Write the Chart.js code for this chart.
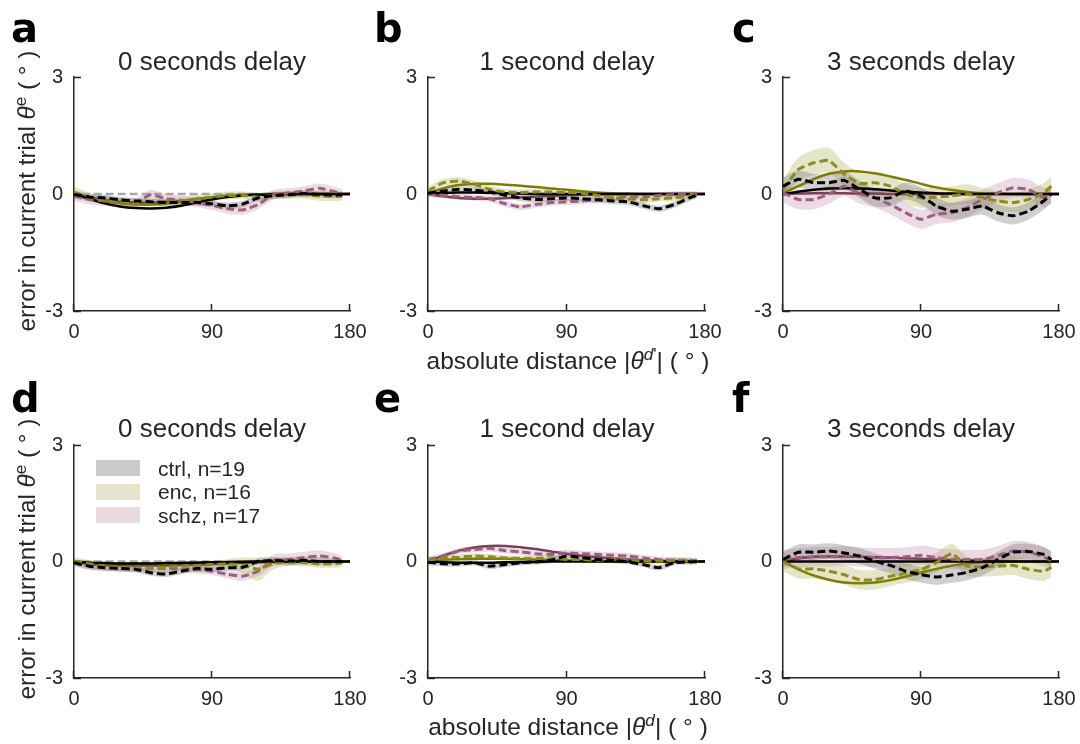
<!DOCTYPE html>
<html>
<head>
<meta charset="utf-8">
<script src="https://cdn.jsdelivr.net/npm/chart.js@4.4.1/dist/chart.umd.min.js"></script>
<style>
  body { margin: 0; background: #fff; overflow: hidden; }
  #fig { position: relative; width: 1080px; height: 744px; font-family: "Liberation Sans", Arial, sans-serif; color: #262626; }
  #fig canvas { position: absolute; }
  .txt { position: absolute; white-space: nowrap; line-height: 1; }
  .letter { font-family: "DejaVu Sans", sans-serif; font-weight: bold; font-size: 40px; color: #000; }
  .title { font-size: 26px; transform: translateX(-50%); }
  .ylab { font-size: 24.3px; transform: translate(-50%, -50%) rotate(-90deg); }
  .xlab { font-size: 24.5px; transform: translateX(-50%); }
  sup { font-size: 0.7em; line-height: 0; vertical-align: 0.5em; }
  .sw { position: absolute; width: 44px; height: 16px; }
  .leg { font-size: 21px; }
</style>
</head>
<body>
<div id="fig">
  <canvas id="pa" width="356" height="299" style="left:24px;top:47px"></canvas>
  <canvas id="pb" width="357" height="299" style="left:378px;top:47px"></canvas>
  <canvas id="pc" width="356" height="299" style="left:733px;top:47px"></canvas>
  <canvas id="pd" width="356" height="298" style="left:24px;top:415px"></canvas>
  <canvas id="pe" width="357" height="298" style="left:378px;top:415px"></canvas>
  <canvas id="pf" width="356" height="298" style="left:733px;top:415px"></canvas>

  <div class="txt letter" style="left:11px;top:8px">a</div>
  <div class="txt letter" style="left:374px;top:8px">b</div>
  <div class="txt letter" style="left:732px;top:8px">c</div>
  <div class="txt letter" style="left:11px;top:378px">d</div>
  <div class="txt letter" style="left:374px;top:378px">e</div>
  <div class="txt letter" style="left:732px;top:378px">f</div>

  <div class="txt title" style="left:212px;top:48px">0 seconds delay</div>
  <div class="txt title" style="left:567px;top:48px">1 second delay</div>
  <div class="txt title" style="left:921px;top:48px">3 seconds delay</div>
  <div class="txt title" style="left:212px;top:415px">0 seconds delay</div>
  <div class="txt title" style="left:567px;top:415px">1 second delay</div>
  <div class="txt title" style="left:921px;top:415px">3 seconds delay</div>

  <div class="txt ylab" style="left:27px;top:191px">error in current trial <i>θ</i><sup>e</sup> ( ° )</div>
  <div class="txt ylab" style="left:27px;top:559px">error in current trial <i>θ</i><sup>e</sup> ( ° )</div>
  <div class="txt xlab" style="left:568px;top:349px">absolute distance |<i>θ</i><sup><i>d</i>'</sup>| ( ° )</div>
  <div class="txt xlab" style="left:568px;top:715px">absolute distance |<i>θ</i><sup><i>d</i></sup>| ( ° )</div>

  <div class="sw" style="left:96px;top:460px;background:#cbcbcb"></div>
  <div class="sw" style="left:96px;top:484px;background:#e6e4cc"></div>
  <div class="sw" style="left:96px;top:507px;background:#eadae1"></div>
  <div class="txt leg" style="left:158px;top:458px">ctrl, n=19</div>
  <div class="txt leg" style="left:158px;top:481px">enc, n=16</div>
  <div class="txt leg" style="left:158px;top:505px">schz, n=17</div>
</div>
<script>
// x positions (deg) of the binned data and of the model fit
const distData = [0, 10, 20, 30, 40, 50, 60, 70, 80, 90, 100, 110, 120, 130, 140, 150, 160, 170, 175];
const distFit  = [0, 10, 20, 30, 40, 50, 60, 70, 80, 90, 100, 110, 120, 130, 140, 150, 160, 170, 180];
const xTicks = [0, 90, 180];
const yTicks = [-3, 0, 3];
const zeroX = [5, 180];
const zeroY = [0, 0];

// panel a : 0 s delay (top row)
const ctrlMeanA = [-0.01, -0.08, -0.1, -0.15, -0.18, -0.2, -0.22, -0.22, -0.22, -0.25, -0.3, -0.26, -0.1, -0.04, -0.02, 0.01, -0.01, -0.03, -0.02];
const ctrlSeA   = [0.1, 0.08, 0.08, 0.08, 0.08, 0.08, 0.08, 0.08, 0.08, 0.08, 0.08, 0.08, 0.08, 0.08, 0.08, 0.08, 0.08, 0.08, 0.08];
const ctrlFitA  = [0, -0.12, -0.24, -0.32, -0.36, -0.37, -0.35, -0.3, -0.22, -0.14, -0.08, -0.04, -0.02, -0.01, 0, 0, 0, 0, 0];
const encMeanA  = [0.05, -0.08, -0.15, -0.2, -0.22, -0.22, -0.2, -0.18, -0.12, -0.08, -0.04, -0.03, -0.08, -0.03, -0.02, -0.02, -0.05, -0.06, -0.05];
const encSeA    = [0.15, 0.12, 0.1, 0.1, 0.1, 0.1, 0.1, 0.1, 0.1, 0.1, 0.1, 0.1, 0.1, 0.1, 0.1, 0.1, 0.12, 0.12, 0.12];
const encFitA   = [0, -0.1, -0.18, -0.24, -0.27, -0.27, -0.25, -0.2, -0.14, -0.08, -0.04, -0.02, -0.01, 0, 0, 0, 0, 0, 0];
const schzMeanA = [-0.05, -0.14, -0.18, -0.22, -0.22, -0.02, -0.12, -0.16, -0.22, -0.29, -0.38, -0.41, -0.27, -0.02, 0.03, 0.08, 0.15, 0.06, 0];
const schzSeA   = [0.12, 0.12, 0.12, 0.12, 0.12, 0.12, 0.12, 0.12, 0.12, 0.12, 0.12, 0.12, 0.12, 0.12, 0.12, 0.12, 0.12, 0.12, 0.12];
const schzFitA  = [0, -0.08, -0.16, -0.2, -0.22, -0.22, -0.2, -0.17, -0.13, -0.09, -0.06, -0.03, -0.01, 0, 0, 0, 0, 0, 0];

// panel b : 1 s delay (top row)
const ctrlMeanB = [0.02, 0.08, 0.12, 0.1, 0.05, -0.03, -0.1, -0.14, -0.12, -0.1, -0.12, -0.15, -0.18, -0.2, -0.3, -0.38, -0.27, -0.1, -0.02];
const ctrlSeB   = [0.08, 0.08, 0.08, 0.08, 0.08, 0.08, 0.08, 0.08, 0.08, 0.08, 0.08, 0.08, 0.08, 0.08, 0.08, 0.08, 0.08, 0.08, 0.08];
const ctrlFitB  = [0, 0.03, 0.04, 0.04, 0.03, 0.02, 0.01, 0, 0, 0, 0, 0, 0, 0, 0, 0, 0, 0, 0];
const encMeanB  = [0.08, 0.29, 0.33, 0.25, 0.12, 0.05, 0.04, 0.05, 0.05, 0.04, 0.02, -0.03, -0.1, -0.12, -0.15, -0.12, -0.1, -0.05, -0.02];
const encSeB    = [0.1, 0.1, 0.1, 0.1, 0.1, 0.08, 0.08, 0.08, 0.08, 0.08, 0.08, 0.08, 0.08, 0.08, 0.08, 0.08, 0.08, 0.08, 0.08];
const encFitB   = [0, 0.15, 0.23, 0.26, 0.26, 0.24, 0.21, 0.18, 0.14, 0.11, 0.07, 0.04, 0.02, 0.01, 0, 0, 0, 0, 0];
const schzMeanB = [-0.01, -0.03, -0.07, -0.09, -0.12, -0.25, -0.33, -0.27, -0.22, -0.2, -0.18, -0.14, -0.1, -0.06, -0.07, -0.04, -0.01, -0.01, 0];
const schzSeB   = [0.08, 0.08, 0.08, 0.08, 0.08, 0.08, 0.08, 0.08, 0.08, 0.08, 0.08, 0.08, 0.08, 0.08, 0.08, 0.08, 0.08, 0.08, 0.08];
const schzFitB  = [0, -0.06, -0.1, -0.12, -0.12, -0.11, -0.09, -0.07, -0.05, -0.03, -0.02, -0.01, 0, 0, 0, 0, 0, 0, 0];

// panel c : 3 s delay (top row)
const ctrlMeanC = [0.2, 0.38, 0.29, 0.29, 0.35, 0.12, -0.1, -0.1, 0.08, -0.05, -0.31, -0.44, -0.39, -0.31, -0.48, -0.56, -0.44, -0.18, 0];
const ctrlSeC   = [0.22, 0.22, 0.22, 0.22, 0.22, 0.22, 0.22, 0.22, 0.22, 0.22, 0.22, 0.22, 0.22, 0.22, 0.22, 0.22, 0.22, 0.22, 0.22];
const ctrlFitC  = [0, 0.06, 0.11, 0.14, 0.15, 0.14, 0.12, 0.09, 0.06, 0.04, 0.02, 0.01, 0, 0, 0, 0, 0, 0, 0];
const encMeanC  = [0.12, 0.63, 0.8, 0.86, 0.5, 0.27, 0.29, 0.2, 0, -0.1, -0.08, -0.05, 0, -0.09, -0.18, -0.22, -0.14, 0.03, 0.2];
const encSeC    = [0.25, 0.3, 0.32, 0.32, 0.3, 0.28, 0.25, 0.25, 0.25, 0.25, 0.25, 0.25, 0.25, 0.25, 0.25, 0.25, 0.25, 0.25, 0.25];
const encFitC   = [0.02, 0.2, 0.38, 0.52, 0.58, 0.58, 0.53, 0.45, 0.36, 0.26, 0.17, 0.1, 0.05, 0.02, 0.01, 0, 0, 0, 0];
const schzMeanC = [0.03, -0.14, -0.14, 0, 0.2, 0, -0.1, -0.27, -0.48, -0.65, -0.52, -0.48, -0.35, -0.14, 0.03, 0.16, 0.12, -0.09, 0];
const schzSeC   = [0.25, 0.25, 0.25, 0.25, 0.25, 0.25, 0.25, 0.25, 0.25, 0.25, 0.25, 0.25, 0.25, 0.25, 0.25, 0.25, 0.25, 0.25, 0.25];
const schzFitC  = [0, 0.01, 0.02, 0.02, 0.02, 0.01, 0.01, 0, 0, 0, 0, 0, 0, 0, 0, 0, 0, 0, 0];

// panel d : 0 s delay (bottom row)
const ctrlMeanD = [-0.03, -0.12, -0.16, -0.18, -0.2, -0.29, -0.32, -0.25, -0.18, -0.2, -0.16, -0.15, 0, 0.03, 0.01, 0.03, 0, 0, 0];
const ctrlSeD   = [0.08, 0.08, 0.08, 0.08, 0.08, 0.08, 0.08, 0.08, 0.08, 0.08, 0.08, 0.08, 0.08, 0.08, 0.1, 0.1, 0.1, 0.08, 0.08];
const ctrlFitD  = [0, -0.03, -0.04, -0.05, -0.05, -0.05, -0.04, -0.04, -0.03, -0.02, -0.02, -0.01, 0, 0, 0, 0, 0, 0, 0];
const encMeanD  = [0.01, -0.06, -0.12, -0.16, -0.16, -0.18, -0.15, -0.12, -0.1, -0.08, -0.06, -0.1, -0.2, -0.05, -0.01, -0.03, -0.06, -0.06, -0.03];
const encSeD    = [0.1, 0.1, 0.1, 0.1, 0.1, 0.1, 0.1, 0.1, 0.1, 0.1, 0.12, 0.2, 0.3, 0.15, 0.1, 0.1, 0.1, 0.1, 0.1];
const encFitD   = [0, -0.03, -0.05, -0.06, -0.06, -0.06, -0.05, -0.04, -0.03, -0.02, -0.01, 0, 0, 0, 0, 0, 0, 0, 0];
const schzMeanD = [-0.03, -0.12, -0.15, -0.16, -0.18, -0.18, -0.18, -0.19, -0.21, -0.25, -0.33, -0.38, -0.25, 0.03, 0.05, 0.1, 0.14, 0.09, 0.03];
const schzSeD   = [0.1, 0.1, 0.1, 0.1, 0.1, 0.1, 0.1, 0.1, 0.1, 0.1, 0.1, 0.12, 0.12, 0.15, 0.15, 0.15, 0.15, 0.12, 0.1];
const schzFitD  = [0, -0.06, -0.09, -0.1, -0.1, -0.1, -0.1, -0.09, -0.08, -0.07, -0.05, -0.03, -0.02, -0.01, 0, 0, 0, 0, 0];

// panel e : 1 s delay (bottom row)
const ctrlMeanE = [-0.02, -0.06, -0.06, -0.03, -0.12, -0.08, -0.03, -0.01, 0.03, 0.14, 0.1, 0.05, 0.03, -0.01, -0.08, -0.16, -0.03, -0.01, 0];
const ctrlSeE   = [0.07, 0.07, 0.07, 0.07, 0.07, 0.07, 0.07, 0.07, 0.07, 0.07, 0.07, 0.07, 0.07, 0.07, 0.07, 0.07, 0.07, 0.07, 0.07];
const ctrlFitE  = [0, -0.02, -0.03, -0.03, -0.03, -0.02, -0.02, -0.01, 0, 0, 0, 0, 0, 0, 0, 0, 0, 0, 0];
const encMeanE  = [0.03, 0.09, 0.11, 0.14, 0.12, 0.09, 0.08, 0.08, 0.09, 0.05, 0.05, 0.03, 0.05, 0.03, 0.01, 0.01, 0.03, 0.01, 0];
const encSeE    = [0.07, 0.07, 0.07, 0.07, 0.07, 0.07, 0.07, 0.07, 0.07, 0.07, 0.07, 0.07, 0.07, 0.07, 0.07, 0.07, 0.07, 0.07, 0.07];
const encFitE   = [0, 0.04, 0.06, 0.07, 0.07, 0.07, 0.06, 0.05, 0.04, 0.03, 0.02, 0.01, 0, 0, 0, 0, 0, 0, 0];
const schzMeanE = [0.05, 0.14, 0.27, 0.31, 0.34, 0.28, 0.25, 0.2, 0.18, 0.22, 0.2, 0.18, 0.16, 0.14, 0.09, 0.05, 0.03, 0.03, 0.01];
const schzSeE   = [0.08, 0.08, 0.08, 0.08, 0.08, 0.08, 0.08, 0.08, 0.08, 0.08, 0.08, 0.08, 0.08, 0.08, 0.08, 0.08, 0.08, 0.08, 0.08];
const schzFitE  = [0, 0.15, 0.28, 0.36, 0.4, 0.4, 0.37, 0.32, 0.26, 0.2, 0.15, 0.11, 0.08, 0.05, 0.03, 0.02, 0.01, 0, 0];

// panel f : 3 s delay (bottom row)
const ctrlMeanF = [0.05, 0.24, 0.24, 0.27, 0.22, 0.14, 0.01, -0.1, -0.25, -0.34, -0.4, -0.35, -0.28, -0.16, 0.05, 0.24, 0.26, 0.18, 0.05];
const ctrlSeF   = [0.2, 0.2, 0.2, 0.2, 0.2, 0.2, 0.2, 0.2, 0.2, 0.2, 0.2, 0.2, 0.2, 0.2, 0.2, 0.2, 0.2, 0.2, 0.2];
const ctrlFitF  = [0, 0, 0, 0, 0, 0, 0, 0, 0, 0, 0, 0, 0, 0, 0, 0, 0, 0, 0];
const encMeanF  = [0, -0.19, -0.19, -0.25, -0.34, -0.47, -0.47, -0.38, -0.3, -0.21, -0.03, 0.2, -0.12, -0.14, -0.12, -0.1, -0.2, -0.25, -0.15];
const encSeF    = [0.25, 0.25, 0.25, 0.25, 0.25, 0.25, 0.25, 0.25, 0.25, 0.25, 0.25, 0.25, 0.25, 0.25, 0.25, 0.25, 0.25, 0.25, 0.25];
const encFitF   = [0, -0.2, -0.36, -0.47, -0.54, -0.56, -0.54, -0.48, -0.39, -0.29, -0.19, -0.11, -0.05, -0.02, 0, 0, 0, 0, 0];
const schzMeanF = [0.05, 0.1, 0.12, 0.12, 0.14, 0.12, 0.1, 0.1, 0.12, 0.16, 0.1, 0.06, 0.05, 0.05, 0.15, 0.27, 0.25, 0.12, 0.02];
const schzSeF   = [0.25, 0.25, 0.25, 0.25, 0.25, 0.25, 0.25, 0.25, 0.25, 0.25, 0.25, 0.25, 0.25, 0.25, 0.25, 0.25, 0.25, 0.25, 0.25];
const schzFitF  = [0, 0.08, 0.12, 0.13, 0.13, 0.12, 0.11, 0.1, 0.08, 0.07, 0.05, 0.04, 0.03, 0.02, 0.01, 0, 0, 0, 0];

const axisColor = '#262626';
const groupStyle = {
  ctrl: { fit: '#000000', mean: '#000000', band: 'rgba(110,110,110,0.32)' },
  enc:  { fit: '#7d7d00', mean: '#8b8b1e', band: 'rgba(160,160,60,0.27)' },
  schz: { fit: '#7b3f5a', mean: '#9b5f80', band: 'rgba(170,90,130,0.22)' }
};

const panels = [
  { id: 'pa', ctrl: [ctrlMeanA, ctrlSeA, ctrlFitA], enc: [encMeanA, encSeA, encFitA], schz: [schzMeanA, schzSeA, schzFitA], zero: true },
  { id: 'pb', ctrl: [ctrlMeanB, ctrlSeB, ctrlFitB], enc: [encMeanB, encSeB, encFitB], schz: [schzMeanB, schzSeB, schzFitB] },
  { id: 'pc', ctrl: [ctrlMeanC, ctrlSeC, ctrlFitC], enc: [encMeanC, encSeC, encFitC], schz: [schzMeanC, schzSeC, schzFitC] },
  { id: 'pd', ctrl: [ctrlMeanD, ctrlSeD, ctrlFitD], enc: [encMeanD, encSeD, encFitD], schz: [schzMeanD, schzSeD, schzFitD], zero: true },
  { id: 'pe', ctrl: [ctrlMeanE, ctrlSeE, ctrlFitE], enc: [encMeanE, encSeE, encFitE], schz: [schzMeanE, schzSeE, schzFitE] },
  { id: 'pf', ctrl: [ctrlMeanF, ctrlSeF, ctrlFitF], enc: [encMeanF, encSeF, encFitF], schz: [schzMeanF, schzSeF, schzFitF] }
];

const pts = (xs, ys) => xs.map((x, i) => ({ x: x, y: ys[i] }));

// ticks pointing into the plot, like the matlab axes
const inwardTicks = {
  id: 'inwardTicks',
  beforeDatasetsDraw(chart) {
    const { ctx, chartArea, scales } = chart;
    ctx.save();
    ctx.strokeStyle = axisColor;
    ctx.lineWidth = 1.5;
    ctx.beginPath();
    xTicks.forEach(v => {
      const px = Math.round(scales.x.getPixelForValue(v)) - 0.5;
      ctx.moveTo(px, chartArea.bottom);
      ctx.lineTo(px, chartArea.bottom - 7);
    });
    yTicks.forEach(v => {
      const py = Math.round(scales.y.getPixelForValue(v)) + 0.5;
      ctx.moveTo(chartArea.left, py);
      ctx.lineTo(chartArea.left + 7, py);
    });
    ctx.stroke();
    ctx.restore();
  }
};

function groupSets(name, arr) {
  const st = groupStyle[name];
  const mean = arr[0], se = arr[1], fit = arr[2];
  return {
    bands: [
      { data: pts(distData, mean.map((m, i) => m + se[i])), fill: '+1', backgroundColor: st.band, borderWidth: 0, pointRadius: 0, tension: 0.3, order: 4 },
      { data: pts(distData, mean.map((m, i) => m - se[i])), fill: false, borderWidth: 0, pointRadius: 0, tension: 0.3, order: 4 }
    ],
    fit: { data: pts(distFit, fit), borderColor: st.fit, borderWidth: 2.5, pointRadius: 0, tension: 0.4, fill: false, order: 2 },
    mean: { data: pts(distData, mean), borderColor: st.mean, borderWidth: 3, borderDash: [8, 4], pointRadius: 0, tension: 0.15, fill: false, order: 1 }
  };
}

panels.forEach(p => {
  const groups = ['ctrl', 'enc', 'schz'].map(g => groupSets(g, p[g]));
  const datasets = [];
  groups.forEach(g => { datasets.push(g.mean); });
  if (p.zero) {
    datasets.push({ data: pts(zeroX, zeroY), borderColor: '#a8a8a8', borderWidth: 2.6, borderDash: [8, 4], pointRadius: 0, fill: false, order: 3 });
  }
  groups.forEach(g => { datasets.push(g.fit); });
  groups.forEach(g => { datasets.push(g.bands[0], g.bands[1]); });

  new Chart(document.getElementById(p.id), {
    type: 'line',
    data: { datasets: datasets },
    options: {
      responsive: false,
      animation: false,
      devicePixelRatio: 1,
      layout: { padding: { left: 0, right: 30, top: 30, bottom: 0 } },
      plugins: { legend: { display: false }, tooltip: { enabled: false } },
      scales: {
        x: {
          type: 'linear', min: 0, max: 180,
          afterBuildTicks: s => { s.ticks = xTicks.map(v => ({ value: v })); },
          afterFit: s => { s.height = 35; },
          grid: { display: false, drawTicks: false },
          border: { display: true, color: axisColor, width: 1.5 },
          ticks: { padding: 9, color: axisColor, autoSkip: false, maxRotation: 0, font: { family: 'Liberation Sans', size: 20 } }
        },
        y: {
          type: 'linear', min: -3, max: 3,
          afterBuildTicks: s => { s.ticks = yTicks.map(v => ({ value: v })); },
          afterFit: s => { s.width = 50; },
          grid: { display: false, drawTicks: false },
          border: { display: true, color: axisColor, width: 1.5 },
          ticks: { padding: 11, color: axisColor, font: { family: 'Liberation Sans', size: 20 } }
        }
      }
    },
    plugins: [inwardTicks]
  });
});
</script>
</body>
</html>
